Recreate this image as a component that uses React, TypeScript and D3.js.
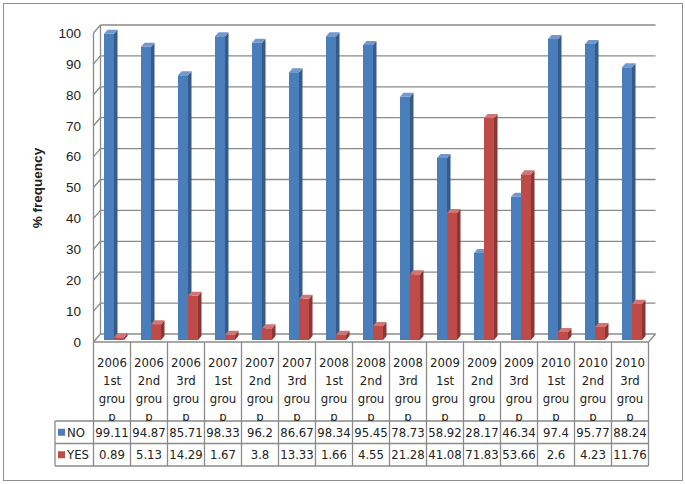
import * as d3 from 'd3';
import * as React from 'react';

const years = ['2006', '2006', '2006', '2007', '2007', '2007', '2008', '2008', '2008', '2009', '2009', '2009', '2010', '2010', '2010'];
const groups = ['1st', '2nd', '3rd', '1st', '2nd', '3rd', '1st', '2nd', '3rd', '1st', '2nd', '3rd', '1st', '2nd', '3rd'];
const noValues = [99.11, 94.87, 85.71, 98.33, 96.2, 86.67, 98.34, 95.45, 78.73, 58.92, 28.17, 46.34, 97.4, 95.77, 88.24];
const yesValues = [0.89, 5.13, 14.29, 1.67, 3.8, 13.33, 1.66, 4.55, 21.28, 41.08, 71.83, 53.66, 2.6, 4.23, 11.76];
const yTicks = [0, 10, 20, 30, 40, 50, 60, 70, 80, 90, 100];

const categories = years.map((y, i) => `${y} ${groups[i]}`);

const series = [
  { name: 'NO', values: noValues, front: '#4a7ebb', side: '#375b88', top: '#7199cf' },
  { name: 'YES', values: yesValues, front: '#be4b48', side: '#8a3633', top: '#d27573' },
];

const width = 685;
const height = 484;
const DX = 7;
const DY = 8;
const grid = '#8a8a8a';
const font = '"Liberation Sans Narrow", "DejaVu Sans Condensed", "Liberation Sans", sans-serif';

const tableTop = 342;
const rowNo = 421;
const rowYes = 443.5;
const tableBottom = 466;
const legendLeft = 55;

export default function App() {
  const x = d3.scaleBand<string>().domain(categories).range([93.5, 648.5]).padding(0);
  const y = d3.scaleLinear().domain([0, 100]).range([342, 33]);

  const p = (px: number, v: number, z: number): [number, number] => [px + z * DX, y(v) - z * DY];
  const poly = (pts: [number, number][]) => pts.map(q => q.join(',')).join(' ');

  const x0 = x.range()[0];
  const x1 = x.range()[1];
  const bw = x.bandwidth();

  const bars: React.ReactNode[] = [];
  categories.forEach((c, i) => {
    series.forEach((s, si) => {
      const v = s.values[i];
      const a = (x(c) as number) + 8.75 + si * 10;
      const b = a + 10;
      const z0 = 0.25;
      const z1 = 0.75;
      bars.push(
        <g key={`${c}-${s.name}`}>
          <polygon fill={s.front} points={poly([p(a, 0, z0), p(b, 0, z0), p(b, v, z0), p(a, v, z0)])} />
          <polygon fill={s.side} points={poly([p(b, 0, z0), p(b, 0, z1), p(b, v, z1), p(b, v, z0)])} />
          <polygon fill={s.top} points={poly([p(a, v, z0), p(b, v, z0), p(b, v, z1), p(a, v, z1)])} />
        </g>,
      );
    });
  });

  return (
    <svg width={width} height={height} style={{ position: 'absolute', left: 0, top: 0 }} fontFamily={font}>
      <defs>
        <clipPath id="head">
          <rect x={0} y={tableTop} width={width} height={rowNo - tableTop} />
        </clipPath>
      </defs>
      <rect x={3.5} y={3.5} width={679} height={477} fill="#fff" stroke="#8e8e8e" />

      {/* walls and gridlines */}
      <g stroke={grid} strokeWidth={1.3} fill="none">
        {yTicks.map(t => {
          const [ax, ay] = p(x0, t, 1);
          const [bx, by] = p(x1, t, 1);
          const [fx, fy] = p(x0, t, 0);
          return (
            <g key={t}>
              <line x1={ax} y1={ay} x2={bx} y2={by} />
              <line x1={fx} y1={fy} x2={ax} y2={ay} />
            </g>
          );
        })}
        <line x1={x0} y1={y(0)} x2={x0} y2={y(100)} />
        <line x1={x0 + DX} y1={y(0) - DY} x2={x0 + DX} y2={y(100) - DY} />
        <line x1={x1} y1={y(0)} x2={x1 + DX} y2={y(0) - DY} />
      </g>

      {bars}

      {/* y axis */}
      <g fontSize={13.5} fill="#222" textAnchor="end">
        {yTicks.map(t => (
          <text key={t} x={81} y={y(t)} dy="0.36em" fontFamily='"Liberation Sans", sans-serif'>
            {t}
          </text>
        ))}
      </g>
      <text
        transform="translate(42,188) rotate(-90)"
        textAnchor="middle"
        fontSize={13.5}
        fontWeight="bold"
        fontFamily='"Liberation Sans", sans-serif'
        fill="#222"
      >
        % frequency
      </text>

      {/* data table */}
      <g stroke={grid} strokeWidth={1.3}>
        <line x1={x0} y1={tableTop} x2={x1} y2={tableTop} />
        {[rowNo, rowYes, tableBottom].map(r => (
          <line key={r} x1={legendLeft} y1={r} x2={x1} y2={r} />
        ))}
        <line x1={legendLeft} y1={rowNo} x2={legendLeft} y2={tableBottom} />
        {categories.map(c => (
          <line key={c} x1={x(c)} y1={tableTop} x2={x(c)} y2={tableBottom} />
        ))}
        <line x1={x1} y1={tableTop} x2={x1} y2={tableBottom} />
      </g>

      <g fontSize={13} fill="#222" textAnchor="middle">
        {categories.map((c, i) => {
          const cx = (x(c) as number) + bw / 2;
          return (
            <g key={c}>
              <g clipPath="url(#head)">
                <text x={cx} y={367}>{years[i]}</text>
                <text x={cx} y={385}>{groups[i]}</text>
                <text x={cx} y={403}>grou</text>
                <text x={cx} y={421}>p</text>
              </g>
              <text x={cx} y={(rowNo + rowYes) / 2} dy="0.36em">{noValues[i]}</text>
              <text x={cx} y={(rowYes + tableBottom) / 2} dy="0.36em">{yesValues[i]}</text>
            </g>
          );
        })}
      </g>

      {/* legend keys */}
      {series.map((s, si) => {
        const cy = si === 0 ? (rowNo + rowYes) / 2 : (rowYes + tableBottom) / 2;
        return (
          <g key={s.name}>
            <rect x={58} y={cy - 3.5} width={7} height={7} fill={s.front} />
            <text x={67} y={cy} dy="0.36em" fontSize={13} fill="#222">
              {s.name}
            </text>
          </g>
        );
      })}
    </svg>
  );
}
